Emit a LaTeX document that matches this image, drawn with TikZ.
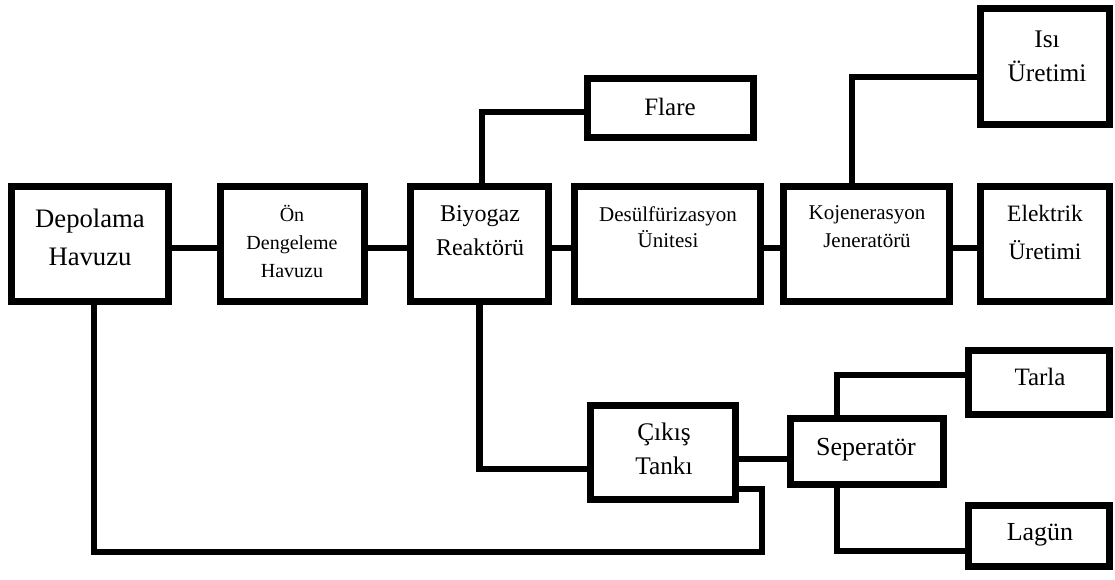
\documentclass[tikz,border=0pt]{standalone}
\usepackage{fontspec}
\setmainfont{Liberation Serif}
% centred multi-line label whose baseline is that of its first line
\newcommand\stack[1]{\begin{tabular}[t]{@{}c@{}}#1\end{tabular}}
\newcommand\fs[2]{\fontsize{#1}{#2}\selectfont}
\def\px{*0.75pt}
\begin{document}
\begin{tikzpicture}[x=0.75pt,y=-0.75pt,
  box/.style={draw=black, line width=5pt, rectangle, inner sep=0pt, fill=white},
  sz/.style 2 args={minimum width=#1*0.75pt-5pt, minimum height=#2*0.75pt-5pt},
  lbl/.style={anchor=base, inner sep=0pt},
  wire/.style={draw=black, line width=4.8pt}]
\useasboundingbox (0,0) rectangle (1115,579);

% process blocks
\node[box, sz={164}{122}] (dep) at (90,244) {};
\node[box, sz={151}{122}] (onb) at (292.5,244) {};
\node[box, sz={145}{122}] (bio) at (479.5,244) {};
\node[box, sz={193}{122}] (des) at (667.5,244) {};
\node[box, sz={173}{122}] (koj) at (866.5,244) {};
\node[box, sz={136}{122}] (ele) at (1045,244) {};
\node[box, sz={136}{123}] (isi) at (1045,66.5) {};
\node[box, sz={173}{66}]  (fla) at (670.5,108) {};
\node[box, sz={152}{101}] (cik) at (663,452.5) {};
\node[box, sz={160}{73}]  (sep) at (867,451.5) {};
\node[box, sz={148}{71}]  (tar) at (1039,382.5) {};
\node[box, sz={148}{68}]  (lag) at (1039,536) {};

% block texts
\node[lbl, font=\fs{20}{28.5}] (tdep) at (90,227) {\stack{Depolama\\Havuzu}};
\node[lbl, font=\fs{15}{21}] (tonb) at (292,221) {\stack{Ön\\Dengeleme\\Havuzu}};
\node[lbl, font=\fs{18}{25.5}] (tbio) at (480,221) {\stack{Biyogaz\\Reaktörü}};
\node[lbl, font=\fs{15.75}{19.5}] (tdes) at (668,221) {\stack{Desülfürizasyon\\Ünitesi}};
\node[lbl, font=\fs{15.75}{21}] (tkoj) at (867,219) {\stack{Kojenerasyon\\Jeneratörü}};
\node[lbl, font=\fs{17.6}{28.5}] (tele) at (1045,221) {\stack{Elektrik\\Üretimi}};
\node[lbl, font=\fs{19}{26}] (tisi) at (1047,47) {\stack{Isı\\Üretimi}};
\node[lbl, font=\fs{18.75}{22}] (tfla) at (670,115) {Flare};
\node[lbl, font=\fs{19}{26}] (tcik) at (664,440) {\stack{Çıkış\\Tankı}};
\node[lbl, font=\fs{19.5}{22}] (tsep) at (866,455) {Seperatör};
\node[lbl, font=\fs{18.75}{22}] (ttar) at (1040,385) {Tarla};
\node[lbl, font=\fs{19.5}{22}] (tlag) at (1040,540) {Lagün};

% main line
\draw[wire] ([yshift=-4\px]dep.east) -- ([yshift=-4\px]onb.west);
\draw[wire] ([yshift=-4\px]onb.east) -- ([yshift=-4\px]bio.west);
\draw[wire] ([yshift=-4\px]bio.east) -- ([yshift=-4\px]des.west);
\draw[wire] ([yshift=-4\px]des.east) -- ([yshift=-4\px]koj.west);
\draw[wire] ([yshift=-4\px]koj.east) -- ([yshift=-4\px]ele.west);

% branches
\draw[wire] ([xshift=2.5\px]bio.north) |- ([yshift=-4\px]fla.west);
\draw[wire] ([xshift=-14.5\px]koj.north) |- ([yshift=-10.5\px]isi.west);
\draw[wire] (bio.south) |- ([yshift=-16.5\px]cik.west);
\draw[wire] ([yshift=-6.5\px]cik.east) -- ([yshift=-6.5\px]cik.east -| sep.west);
\draw[wire] ([xshift=-30\px]sep.north) |- ([yshift=7.5\px]tar.west);
\draw[wire] ([xshift=-30\px]sep.south) |- ([yshift=-15\px]lag.west);

% return line from the outlet tank back to storage
\coordinate (ret) at (762,552);
\draw[wire] ([yshift=-36.5\px]cik.east) -| (ret) -| ([xshift=4\px]dep.south);
\end{tikzpicture}
\end{document}
